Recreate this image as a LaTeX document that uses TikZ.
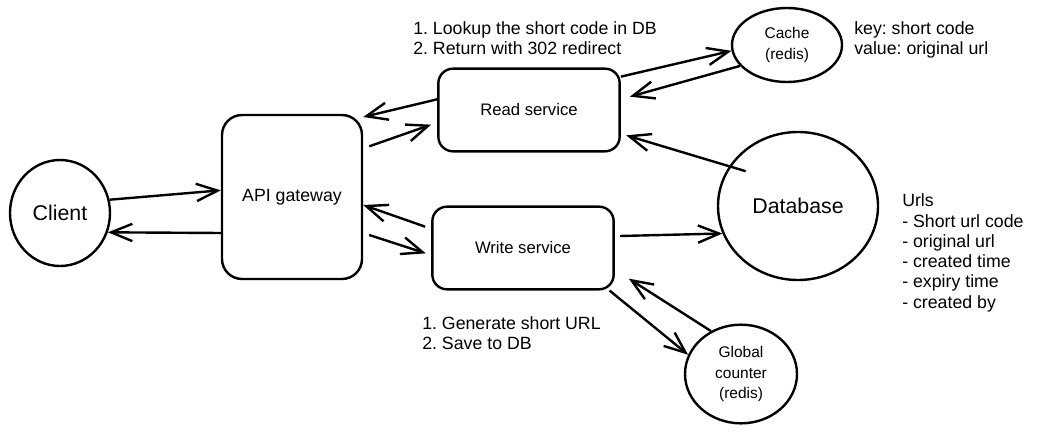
\documentclass[tikz,border=0pt]{standalone}
\usepackage{fontspec}
\setmainfont{Liberation Sans}
\frenchspacing
\usepackage{tikz}
\usetikzlibrary{arrows.meta,positioning,calc,shapes.geometric}
\tikzstyle{store}   = [draw,ellipse,line width=1.8pt,inner sep=0pt,align=center,font=\fontsize{11.6}{15.5}\selectfont]
\tikzstyle{gateway} = [draw,rounded corners=15pt,line width=1.8pt,minimum width=105pt,minimum height=123pt,font=\fontsize{13.3}{16}\selectfont]
\tikzstyle{service} = [draw,rounded corners=11pt,line width=1.8pt,minimum width=136pt,minimum height=62pt,font=\fontsize{12.5}{15}\selectfont]
\tikzstyle{note}    = [inner sep=0pt,anchor=west,align=left,font=\fontsize{13.3}{15.2}\selectfont]
\tikzstyle{flow}    = [line width=1.8pt,-{Straight Barb[length=16pt,width=13pt]}]

\begin{document}
\begin{tikzpicture}[x=0.75pt,y=-0.75pt]
                  \useasboundingbox (0,0) rectangle (1037,434);
                  \node (client)[store,minimum width=75pt,minimum height=79.5pt,font=\fontsize{16}{19}\selectfont] at (60,213) {Client};
                  \node (api)[gateway] at (292,197) {API gateway};
                  \node (read)[service] at (529,110) {Read service};
                  \node (write)[service] at (523,248) {Write service};
                  \node (cache)[store,minimum width=82.5pt,minimum height=55.5pt] at (787,45) {Cache\\(redis)};
                  \node (db)[store,minimum width=120pt,minimum height=111pt,font=\fontsize{16}{19}\selectfont] at (798,206) {Database};
                  \node (counter)[store,minimum width=84pt,minimum height=74pt] at (741,374) {Global\\counter\\(redis)};

                  \node (lookup)[note] at (413,38) {1. Lookup the short code in DB\\2. Return with 302 redirect};
                  \node (cachekey)[note] at (854,40) {key: short code\\value: original url};
                  \node (generate)[note] at (422,333) {1. Generate short URL\\2. Save to DB};
                  \node (urls)[note] at (902,253) {Urls\\- Short url code\\- original url\\- created time\\- expiry time\\- created by};

                  \draw[flow] (client.15) -- ([yshift=5pt]api.west);
                  \draw[flow] ([yshift=-27pt]api.west) -- (client.-22);
                  \draw[flow] ([yshift=8pt]read.west) -- ([yshift=60pt]api.east);
                  \draw[flow] ([xshift=4.5pt,yshift=38pt]api.east) -- ([xshift=-4.5pt,yshift=-11pt]read.west);
                  \draw[flow] ([xshift=-4.5pt,yshift=16pt]write.west) -- ([yshift=-6pt]api.east);
                  \draw[flow] ([xshift=4.5pt,yshift=-28.5pt]api.east) -- ([xshift=-4pt,yshift=-4pt]write.west);
                  \draw[flow] ([yshift=25pt]read.east) -- (cache.186);
                  \draw[flow] (cache.204) -- ([xshift=6.75pt,yshift=10pt]read.east);
                  \draw[flow,shorten <=-13pt] (db.150) -- ([xshift=4pt,yshift=-19pt]read.east);
                  \draw[flow] ([xshift=4pt,yshift=9pt]write.east) -- (db.200);
                  \draw[flow] ([xshift=-4pt]write.south east) -- (counter.160);
                  \draw[flow] (counter.125) -- ([xshift=10.5pt,yshift=-23pt]write.east);
            \end{tikzpicture}
\end{document}
